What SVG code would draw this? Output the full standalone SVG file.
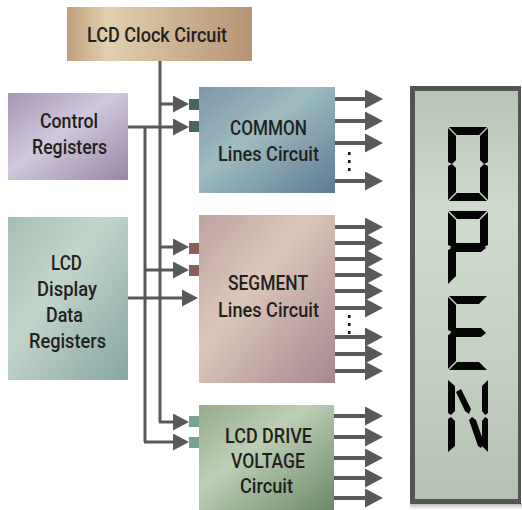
<svg xmlns="http://www.w3.org/2000/svg" width="522" height="510" viewBox="0 0 522 510">
<defs>
<linearGradient id="gClock" x1="0" y1="0" x2="1" y2="0">
<stop offset="0" stop-color="#c29f7b"/><stop offset="0.22" stop-color="#e1d0ae"/><stop offset="0.6" stop-color="#cdb291"/><stop offset="1" stop-color="#b69373"/>
</linearGradient>
<linearGradient id="gCtrl" x1="0" y1="0" x2="1" y2="1">
<stop offset="0" stop-color="#a696b6"/><stop offset="0.45" stop-color="#d0c8dc"/><stop offset="1" stop-color="#9886a8"/>
</linearGradient>
<linearGradient id="gData" x1="0" y1="0" x2="1" y2="1">
<stop offset="0" stop-color="#a6beb2"/><stop offset="0.4" stop-color="#c2d5ca"/><stop offset="1" stop-color="#86a6a4"/>
</linearGradient>
<linearGradient id="gCommon" x1="0" y1="0" x2="1" y2="1">
<stop offset="0" stop-color="#7b96ab"/><stop offset="0.42" stop-color="#9ebcc0"/><stop offset="1" stop-color="#5d7b95"/>
</linearGradient>
<linearGradient id="gSeg" x1="0" y1="0" x2="1" y2="1">
<stop offset="0" stop-color="#bea29f"/><stop offset="0.4" stop-color="#dcc6b9"/><stop offset="1" stop-color="#a6868f"/>
</linearGradient>
<linearGradient id="gDrive" x1="0" y1="0" x2="1" y2="1">
<stop offset="0" stop-color="#96ab8b"/><stop offset="0.4" stop-color="#bccfb4"/><stop offset="1" stop-color="#6c8968"/>
</linearGradient>
<linearGradient id="gLcd" x1="0" y1="0" x2="0" y2="1">
<stop offset="0" stop-color="#b8c4b6"/><stop offset="0.3" stop-color="#cfdbcd"/><stop offset="0.7" stop-color="#c3cfc0"/><stop offset="1" stop-color="#b4c0b1"/>
</linearGradient>
<linearGradient id="gShadow" x1="0" y1="0" x2="0" y2="1">
<stop offset="0" stop-color="#777" stop-opacity="0.6"/><stop offset="1" stop-color="#999" stop-opacity="0"/>
</linearGradient>
<marker id="ah" markerUnits="userSpaceOnUse" markerWidth="17" markerHeight="17" refX="1" refY="8.5" orient="auto">
<path d="M0,0 L16,8.5 L0,17 Z" fill="#58595b"/>
</marker>
<marker id="ahBig" markerUnits="userSpaceOnUse" markerWidth="19" markerHeight="19" refX="1" refY="9.5" orient="auto">
<path d="M0,0 L18,9.5 L0,19 Z" fill="#58595b"/>
</marker>
</defs>
<style>
.lbl{font-family:Roboto,"Liberation Sans",Arial,sans-serif;font-size:21px;font-weight:500;fill:#231f20;}
.wire{fill:none;stroke:#58595b;stroke-width:3;}
.in{fill:none;stroke:#58595b;stroke-width:3;marker-end:url(#ah);}
.out{fill:none;stroke:#58595b;stroke-width:4;marker-end:url(#ahBig);}
.seg{fill:#050505;}
</style>

<g id="connectors">
<path class="wire" d="M160,61 V422"/>
<path class="wire" d="M145,127 V442"/>
<path class="in" d="M160,104 H174"/>
<path class="in" d="M128,127 H174"/>
<path class="in" d="M160,247 H174"/>
<path class="in" d="M145,270 H174"/>
<path class="in" d="M128,298 H183"/>
<path class="in" d="M159,422 H174"/>
<path class="in" d="M144,442 H174"/>
<path class="out" d="M335,99 H366"/>
<path class="out" d="M335,121 H366"/>
<path class="out" d="M335,143 H366"/>
<path class="out" d="M335,181 H366"/>
<path class="out" d="M335,227 H366"/>
<path class="out" d="M335,243 H366"/>
<path class="out" d="M335,259 H366"/>
<path class="out" d="M335,275 H366"/>
<path class="out" d="M335,291 H366"/>
<path class="out" d="M335,308 H366"/>
<path class="out" d="M335,337 H366"/>
<path class="out" d="M335,354 H366"/>
<path class="out" d="M335,371 H366"/>
<path class="out" d="M334,416 H366"/>
<path class="out" d="M334,437 H366"/>
<path class="out" d="M334,458 H366"/>
<path class="out" d="M334,478 H366"/>
<path class="out" d="M334,498 H366"/>
<g fill="#111">
<rect x="348" y="152" width="2.5" height="3"/><rect x="348" y="160" width="2.5" height="3"/><rect x="348" y="168" width="2.5" height="3"/>
<rect x="348" y="315" width="2.5" height="3"/><rect x="348" y="323" width="2.5" height="3"/><rect x="348" y="331" width="2.5" height="3"/>
</g>
</g>

<g id="clock">
<rect x="67" y="7" width="185" height="54" fill="url(#gClock)"/>
<text class="lbl" x="87" y="42" textLength="140" lengthAdjust="spacingAndGlyphs">LCD Clock Circuit</text>
</g>

<g id="control">
<rect x="8" y="93" width="120" height="87" fill="url(#gCtrl)"/>
<text class="lbl" x="40" y="128" textLength="58" lengthAdjust="spacingAndGlyphs">Control</text>
<text class="lbl" x="32" y="154" textLength="75" lengthAdjust="spacingAndGlyphs">Registers</text>
</g>

<g id="data">
<rect x="8" y="217" width="120" height="163" fill="url(#gData)"/>
<text class="lbl" x="51" y="270" textLength="31" lengthAdjust="spacingAndGlyphs">LCD</text>
<text class="lbl" x="37" y="296" textLength="60" lengthAdjust="spacingAndGlyphs">Display</text>
<text class="lbl" x="46" y="322" textLength="37" lengthAdjust="spacingAndGlyphs">Data</text>
<text class="lbl" x="29" y="348" textLength="77" lengthAdjust="spacingAndGlyphs">Registers</text>
</g>

<g id="common">
<rect x="189" y="99" width="10" height="11" fill="#46665f"/>
<rect x="189" y="121" width="10" height="11" fill="#46665f"/>
<rect x="199" y="87" width="136" height="106" fill="url(#gCommon)"/>
<text class="lbl" x="230" y="135" textLength="77" lengthAdjust="spacingAndGlyphs">COMMON</text>
<text class="lbl" x="218" y="161" textLength="101" lengthAdjust="spacingAndGlyphs">Lines Circuit</text>
</g>

<g id="segment">
<rect x="189" y="243" width="10" height="11" fill="#8a605c"/>
<rect x="189" y="265" width="10" height="11" fill="#8a605c"/>
<rect x="199" y="215" width="136" height="168" fill="url(#gSeg)"/>
<text class="lbl" x="228" y="290" textLength="80" lengthAdjust="spacingAndGlyphs">SEGMENT</text>
<text class="lbl" x="218" y="317" textLength="101" lengthAdjust="spacingAndGlyphs">Lines Circuit</text>
</g>

<g id="drive">
<rect x="189" y="416" width="10" height="11" fill="#7aa090"/>
<rect x="189" y="437" width="10" height="11" fill="#7aa090"/>
<rect x="199" y="405" width="135" height="105" fill="url(#gDrive)"/>
<text class="lbl" x="225" y="443" textLength="87" lengthAdjust="spacingAndGlyphs">LCD DRIVE</text>
<text class="lbl" x="231" y="468" textLength="74" lengthAdjust="spacingAndGlyphs">VOLTAGE</text>
<text class="lbl" x="240" y="493" textLength="53" lengthAdjust="spacingAndGlyphs">Circuit</text>
</g>

<g id="lcd">
<rect x="410" y="503" width="112" height="7" fill="url(#gShadow)"/>
<rect x="410" y="86" width="111" height="418" fill="#545454"/>
<rect x="415" y="91" width="103" height="408" fill="url(#gLcd)"/>
<g class="seg">
<polygon points="449,127 487,127 479,135 457,135"/>
<polygon points="449,201 487,201 479,193 457,193"/>
<polygon points="448,128 456,136 456,160 452,164 448,162"/>
<polygon points="488,128 480,136 480,160 484,164 488,162"/>
<polygon points="448,166 452,164 456,168 456,192 448,200"/>
<polygon points="488,166 484,164 480,168 480,192 488,200"/>
</g>
<g class="seg">
<polygon points="449,211 487,211 479,219 457,219"/>
<polygon points="448,212 456,220 456,243 452,247 448,245"/>
<polygon points="488,212 480,220 480,243 484,247 488,245"/>
<polygon points="450,248 455,243 481,243 486,248 481,252 455,252"/>
<polygon points="448,250 452,248 456,252 456,276 448,284"/>
</g>
<g class="seg">
<polygon points="449,296 487,296 479,304 457,304"/>
<polygon points="449,370 487,370 479,362 457,362"/>
<polygon points="448,297 456,305 456,328 452,332 448,330"/>
<polygon points="450,333 455,328 481,328 486,333 481,337 455,337"/>
<polygon points="448,335 452,333 456,337 456,361 448,369"/>
</g>
<g class="seg">
<polygon points="448,380 455,386 455,411 451,415 448,413"/>
<polygon points="488,380 482,386 482,411 485,415 488,413"/>
<polygon points="448,419 451,417 455,421 455,446 448,452"/>
<polygon points="488,419 485,417 482,421 482,446 488,452"/>
<polygon points="456,392 461,389 471,409 469,414 465,411"/>
<polygon points="469,420 472,417 476,420 484,443 481,448 478,446"/>
</g>
</g>
</svg>
